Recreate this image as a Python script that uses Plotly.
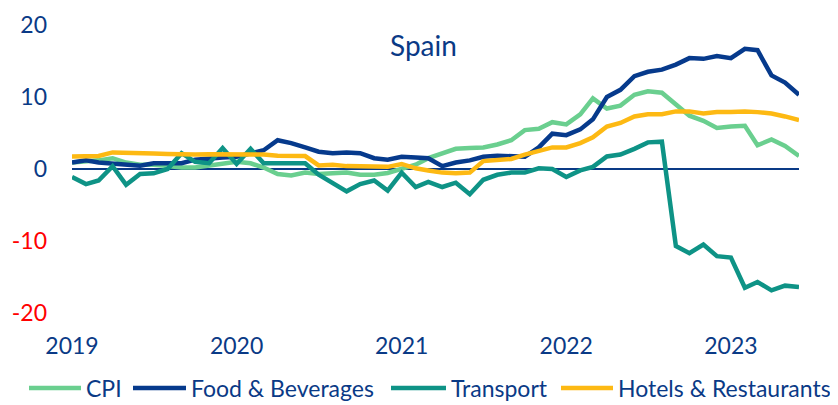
import plotly.graph_objects as go
import pandas as pd

# ---------------- data (monthly, Jan 2019 - Jun 2023, % y/y) ----------------
months = pd.date_range("2019-01-01", "2023-06-01", freq="MS")

cpi = [0.9, 1.0, 1.2, 1.5, 0.9, 0.6, 0.6, 0.4, 0.2, 0.2, 0.5, 0.8,
       1.0, 0.8, 0.2, -0.7, -0.9, -0.5, -0.7, -0.6, -0.5, -0.8, -0.8, -0.55,
       0.1, 0.6, 1.5, 2.2, 2.8, 2.9, 3.0, 3.4, 4.0, 5.4, 5.6, 6.5,
       6.2, 7.6, 9.8, 8.4, 8.8, 10.3, 10.8, 10.6, 9.0, 7.4, 6.7, 5.7,
       5.9, 6.0, 3.3, 4.1, 3.2, 1.8]

food = [0.9, 1.2, 0.9, 0.7, 0.55, 0.45, 0.8, 0.8, 0.8, 1.3, 1.5, 1.6,
        1.7, 2.2, 2.6, 4.0, 3.6, 3.0, 2.4, 2.2, 2.3, 2.2, 1.5, 1.3,
        1.7, 1.6, 1.5, 0.4, 0.9, 1.2, 1.7, 1.85, 1.85, 1.7, 3.0, 4.9,
        4.7, 5.5, 6.9, 10.0, 11.0, 12.9, 13.5, 13.8, 14.5, 15.4, 15.3, 15.7,
        15.4, 16.7, 16.5, 13.0, 12.0, 10.3]

transport = [-1.1, -2.1, -1.6, 0.4, -2.2, -0.7, -0.6, 0.0, 2.2, 1.0, 0.8, 2.9,
             0.7, 2.8, 0.8, 0.8, 0.8, 0.8, -0.8, -2.0, -3.1, -2.1, -1.6, -3.0,
             -0.5, -2.5, -1.8, -2.5, -1.9, -3.5, -1.5, -0.8, -0.5, -0.5, 0.1, 0.0,
             -1.1, -0.2, 0.3, 1.75, 2.0, 2.8, 3.7, 3.8, -10.7, -11.7, -10.5, -12.1,
             -12.3, -16.5, -15.7, -16.85, -16.2, -16.4]

hotels = [1.75, 1.75, 1.8, 2.3, 2.3, 2.25, 2.15, 2.1, 2.0, 2.0, 2.05, 2.05,
          2.15, 2.1, 2.0, 1.85, 1.8, 1.8, 0.5, 0.6, 0.4, 0.4, 0.4, 0.3,
          0.7, 0.1, -0.2, -0.5, -0.6, -0.5, 1.1, 1.25, 1.4, 2.0, 2.5, 3.0,
          3.0, 3.6, 4.4, 5.9, 6.4, 7.3, 7.6, 7.6, 8.0, 8.0, 7.7, 7.9,
          7.9, 8.0, 7.9, 7.7, 7.3, 6.8]

series_names = ["CPI", "Food & Beverages", "Transport", "Hotels & Restaurants"]
series_values = [cpi, food, transport, hotels]
series_colors = ["#6ACF8F", "#063A8C", "#0E9386", "#FDB913"]

y_tickvals = [20, 10, 0, -10, -20]
x_tickvals = ["2019-01-01", "2020-01-01", "2021-01-01", "2022-01-01", "2023-01-01"]
x_ticktext = ["2019", "2020", "2021", "2022", "2023"]

title_text = "Spain"

# ---------------- figure ----------------
# page body has an 8px margin, so the figure is 8px smaller and offset
OFF = 8
W, H = 838 - OFF, 405 - OFF
L, R, T, B = 72 - OFF, 39, 25 - OFF, 92
FONT = "Lato"
BLUE = "#0A3A86"
RED = "#FF0000"

fig = go.Figure()
for name, vals, col in zip(series_names, series_values, series_colors):
    fig.add_trace(go.Scatter(x=months, y=vals, mode="lines", name=name,
                             line=dict(color=col, width=4.5), showlegend=False))

y_ticktext = [f'<span style="color:{RED if v < 0 else BLUE}">{v}</span>' for v in y_tickvals]

fig.update_layout(
    width=W, height=H,
    margin=dict(l=L, r=R, t=T, b=B, autoexpand=False),
    plot_bgcolor="white", paper_bgcolor="white",
    font=dict(family=FONT, size=23, color=BLUE),
    xaxis=dict(range=[months[0], months[-1]], showgrid=False, zeroline=False,
               showline=False, tickvals=x_tickvals, ticktext=x_ticktext,
               automargin=False,
               ticks="", ticklabelstandoff=17, tickfont=dict(size=23, color=BLUE)),
    yaxis=dict(range=[-20, 20], showgrid=False, zeroline=True,
               zerolinecolor="#0A3A86", zerolinewidth=1.6, showline=False,
               automargin=False,
               tickvals=y_tickvals, ticktext=y_ticktext, ticks="",
               ticklabelstandoff=24, tickfont=dict(size=23)),
    showlegend=False,
)

plot_w = W - L - R
plot_h = H - T - B


def px_x(px):
    return (px - OFF - L) / plot_w


def px_y(py):
    return (H - B - (py - OFF)) / plot_h


# title
fig.add_annotation(text=title_text, xref="paper", yref="paper",
                   x=px_x(423), y=px_y(45), showarrow=False,
                   font=dict(size=28, color=BLUE, family=FONT),
                   xanchor="center", yanchor="middle")

# legend (manual, to match line-sample length)
legend_y = 388
legend_items = [(29, 81, 84), (133, 186, 189), (391, 446, 449), (561, 613, 616)]
for (x0, x1, xt), name, col in zip(legend_items, series_names, series_colors):
    fig.add_shape(type="line", xref="paper", yref="paper",
                  x0=px_x(x0), x1=px_x(x1), y0=px_y(legend_y), y1=px_y(legend_y),
                  line=dict(color=col, width=4.5))
    fig.add_annotation(text=name, xref="paper", yref="paper",
                       x=px_x(xt), y=px_y(legend_y), showarrow=False,
                       xanchor="left", yanchor="middle",
                       font=dict(size=23, color=BLUE, family=FONT))

fig.write_html("out.html")
